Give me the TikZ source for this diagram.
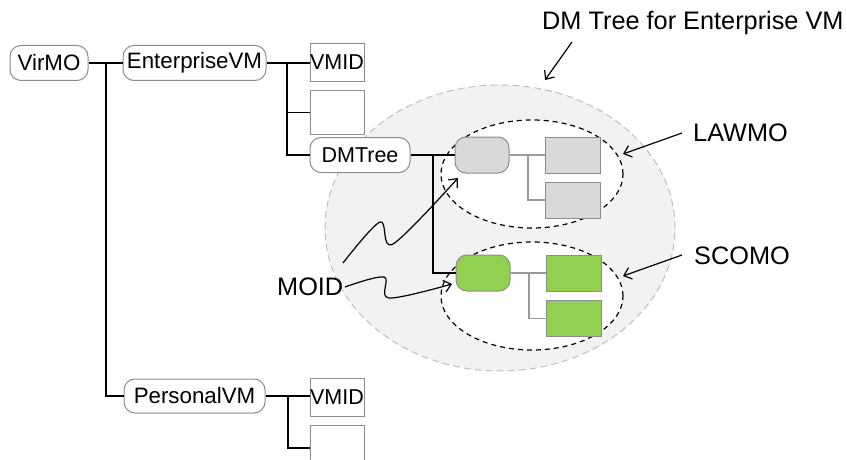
\documentclass[tikz,border=0pt]{standalone}
\usepackage{fontspec}
\setmainfont{Liberation Sans}
\usetikzlibrary{shapes.geometric,arrows.meta}
\definecolor{boxline}{HTML}{8C8C8C}
\definecolor{connGray}{HTML}{999999}
\definecolor{ellLine}{HTML}{BFBFBF}
\definecolor{ellFill}{HTML}{F2F2F2}
\definecolor{lawFill}{HTML}{D9D9D9}
\definecolor{scoFill}{HTML}{92D050}
\begin{document}
\begin{tikzpicture}[x=1pt,y=-1pt,
  tbox/.style={draw=boxline, line width=1pt, rounded corners=11pt, fill=white, inner sep=0pt,
    font=\fontsize{22.3}{25}\selectfont, minimum height=35pt},
  sbox/.style={draw=boxline, line width=1pt, fill=white, inner sep=0pt, minimum width=54pt,
    font=\fontsize{21.5}{24}\selectfont},
  rbox/.style={draw=boxline, line width=1pt, rounded corners=11pt, inner sep=0pt,
    minimum width=54pt, minimum height=36pt},
  qbox/.style={draw=boxline, line width=1pt, inner sep=0pt, minimum width=55pt, minimum height=36pt},
  tline/.style={line width=1.3pt, black},
  gline/.style={line width=1.3pt, connGray},
  arr/.style={line width=1.2pt, -{Straight Barb[length=7pt,width=12pt]}},
  lbl/.style={font=\fontsize{25.3}{29}\selectfont, inner sep=0pt, anchor=base west},
  elldash/.style={ellipse, inner sep=0pt, line width=1.2pt, dash pattern=on 5pt off 4pt}
]
\clip (0,0) rectangle (847,460);

% ellipses
\node[elldash, draw=ellLine, fill=ellFill, line width=1pt, dash pattern=on 7pt off 4pt,
  minimum width=350pt, minimum height=286pt] (bigE) at (500,228) {};
\node[elldash, draw=black, fill=white, minimum width=182pt, minimum height=108pt] (lawE) at (532,174) {};
\node[elldash, draw=black, fill=white, minimum width=182pt, minimum height=108pt] (scoE) at (532,296) {};

% main tree nodes
\node[tbox, minimum width=78pt] (virmo) at (49,63) {VirMO};
\node[tbox, minimum width=143pt] (evm) at (194.5,63) {EnterpriseVM};
\node[sbox, minimum height=38pt] (vmid1) at (337,62.5) {VMID};
\node[sbox, minimum height=43pt] (e1) at (337,112.5) {};
\node[tbox, minimum width=100pt, font=\fontsize{21.5}{24}\selectfont] (dmt) at (360,155) {DMTree};
\node[tbox, minimum width=141pt, minimum height=34pt] (pvm) at (194.5,396) {PersonalVM};
\node[sbox, minimum height=38pt] (vmid2) at (337,397) {VMID};
\node[sbox, minimum height=46pt] (e2) at (337,448) {};

% DM subtree nodes
\node[rbox, fill=lawFill] (law) at (482,155) {};
\node[rbox, fill=scoFill] (sco) at (483,273) {};
\node[qbox, fill=lawFill] (l1) at (572.5,155) {};
\node[qbox, fill=lawFill] (l2) at (572.5,200) {};
\node[qbox, fill=scoFill] (s1) at (573.5,273) {};
\node[qbox, fill=scoFill] (s2) at (573.5,318.5) {};

% junctions
\coordinate (j0) at (106,63);
\coordinate (j1) at (287,63);
\coordinate (j2) at (288,396);
\coordinate (j3) at (433,155);
\coordinate (j4) at (528,155);
\coordinate (j5) at (529,273);

% connectors main tree
\draw[tline] (virmo.east) -- (evm.west);
\draw[tline] (j0) |- (pvm.west);
\draw[tline] (evm.east) -- (vmid1.west |- evm.east);
\draw[tline] (j1) |- (e1.west);
\draw[tline] (j1) |- (dmt.west);
\draw[tline] (pvm.east) -- (vmid2.west |- pvm.east);
\draw[tline] (j2) |- (e2.west);

% connectors DM subtree
\draw[tline] (dmt.east) -- (law.west);
\draw[tline] (j3) |- (sco.west);
\draw[gline] (law.east) -- (l1.west);
\draw[gline] (j4) |- (l2.west);
\draw[gline] (sco.east) -- (s1.west);
\draw[gline] (j5) |- (s2.west);

% labels
\node[lbl] (lawlbl) at (693,142) {LAWMO};
\node[lbl] (scolbl) at (694,264) {SCOMO};
\node[lbl] (moid) at (277,295) {MOID};
\node[lbl] (title) at (542,30) {DM Tree for Enterprise VM};

% label arrows
\coordinate (lawtail) at (682,133);
\coordinate (lawtip) at (623,154);
\draw[arr] (lawtail) -- (lawtip);
\coordinate (scotail) at (682,255);
\coordinate (scotip) at (623,276);
\draw[arr] (scotail) -- (scotip);
\coordinate (ttail) at (572,42);
\coordinate (ttip) at (545,80);
\draw[arr] (ttail) -- (ttip);

% MOID squiggles
\coordinate (m1) at (343,263);
\coordinate (m1p) at (380,222);
\coordinate (m1t) at (393,244);
\coordinate (m1e) at (458,178);
\draw[arr] plot[smooth, tension=0.55] coordinates {(m1) (m1p) (m1t) (m1e)};
\coordinate (m2) at (345,287);
\coordinate (m2p) at (384,277);
\coordinate (m2t) at (389,298);
\coordinate (m2e) at (452,284);
\draw[arr] plot[smooth, tension=0.55] coordinates {(m2) (m2p) (m2t) (m2e)};
\end{tikzpicture}
\end{document}
